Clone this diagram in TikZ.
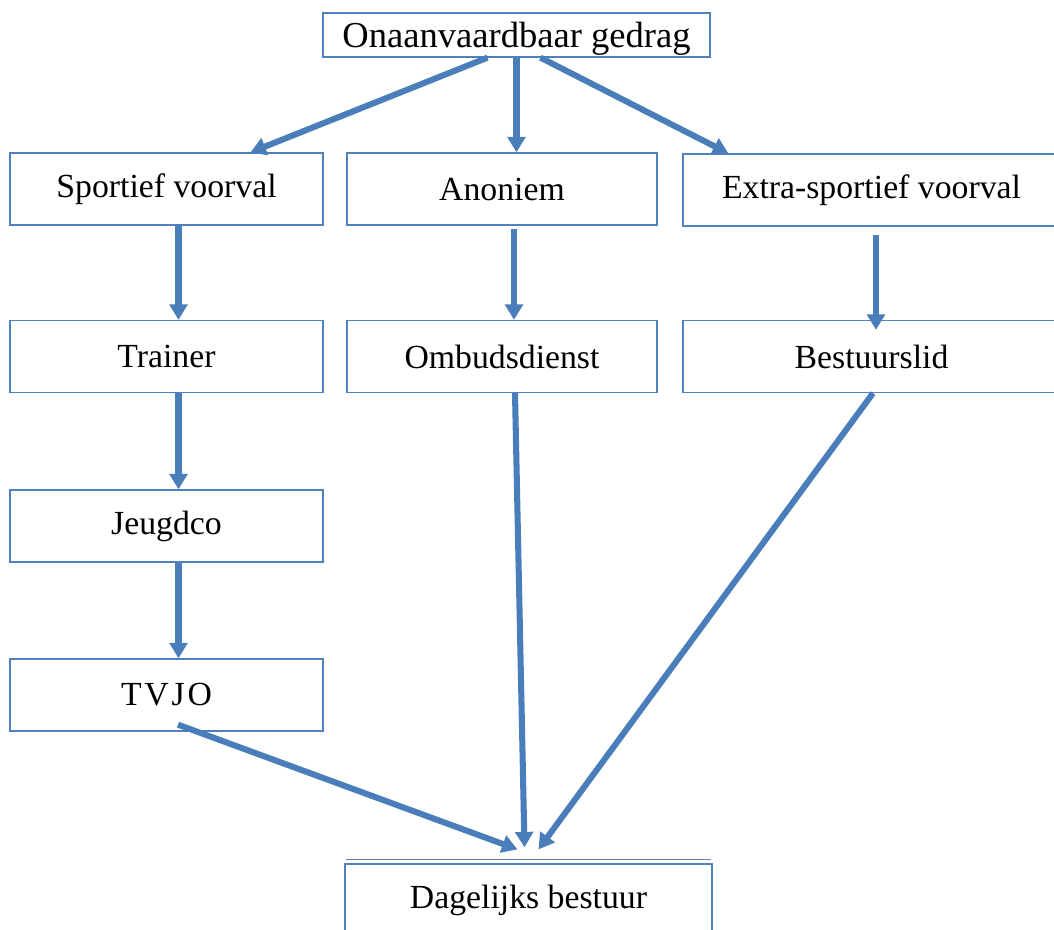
\documentclass[tikz,border=0pt]{standalone}
\usepackage{fontspec}
\setmainfont{Liberation Serif}
\usetikzlibrary{positioning,calc,arrows.meta}
\definecolor{boxblue}{RGB}{79,129,189}
\definecolor{arrowblue}{RGB}{74,126,187}
\tikzset{%
  b/.style = {rectangle,draw=boxblue,line width=0.9pt,fill=white,
        minimum width=7.825cm,minimum height=1.8cm,
        font=\fontsize{24}{28}\selectfont},
  flow/.style = {-{Triangle[length=11pt,width=12.5pt]},draw=arrowblue,
        line width=4.3pt}
}
\begin{document}
\begin{tikzpicture}[x=0.025cm,y=-0.025cm]
  \useasboundingbox (0,0) rectangle (1054,929);
  \node[b,minimum width=9.675cm,minimum height=1.1cm,text depth=0pt,
        font=\fontsize{26}{30}\selectfont] (onaan) at (516.5,35) {Onaanvaardbaar gedrag};
  \node[b] (sport) at (166.5,189) {Sportief voorval};
  \node[b,minimum width=7.75cm] (anon) at (502,189) {Anoniem};
  \node[b,minimum width=9.425cm] (extra) at (871.5,190) {Extra-sportief voorval};
  \node[b] (train) at (166.5,356.5) {Trainer};
  \node[b,minimum width=7.75cm] (omb) at (502,356.5) {Ombudsdienst};
  \node[b,minimum width=9.425cm] (best) at (871.5,356.5) {Bestuurslid};
  \node[b] (jeugd) at (166.5,526) {Jeugdco};
  \node[b] (tvjo) at (166.5,695) {T\kern2pt V\kern2pt J\kern2pt O};
  \node[b,minimum width=9.175cm] (bot) at (528.5,900) {Dagelijks bestuur};
  \draw[boxblue!60!gray,line width=0.6pt] ($(bot.north west)+(2,-4)$) -- ($(bot.north east)+(-2,-4)$);

  \draw[flow] ($(onaan.south)+(-29,0)$) -- ($(sport.north)+(84,0)$);
  \draw[flow] (onaan.south) -- (onaan.south |- anon.north);
  \draw[flow] ($(onaan.south)+(24,0)$) -- ($(extra.north west)+(46,0)$);
  \draw[flow] ($(sport.south)+(12,0)$) -- ($(train.north)+(12,0)$);
  \draw[flow] ($(anon.south)+(12,3)$) -- ($(omb.north)+(12,0)$);
  \draw[flow] ($(extra.south)+(4.5,8)$) -- ($(best.north)+(4.5,10)$);
  \draw[flow] ($(train.south)+(12,0)$) -- ($(jeugd.north)+(12,0)$);
  \draw[flow] ($(jeugd.south)+(12,0)$) -- ($(tvjo.north)+(12,0)$);

  \draw[flow] ($(tvjo.south)+(11.5,-7)$) -- ($(bot.north)+(-11,-14)$);
  \draw[flow] ($(omb.south)+(13,0)$) -- ($(bot.north)+(-4,-16)$);
  \draw[flow] ($(best.south)+(1.5,0)$) -- ($(bot.north)+(10,-14)$);
\end{tikzpicture}
\end{document}
